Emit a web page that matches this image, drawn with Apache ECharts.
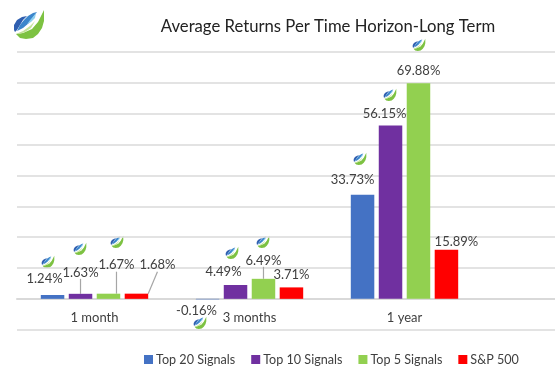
<!DOCTYPE html>
<html><head><meta charset="utf-8">
<style>html,body{margin:0;padding:0;background:#fff}#c{width:555px;height:383px}</style>
<script src="https://cdn.jsdelivr.net/npm/echarts@6/dist/echarts.min.js"></script>
</head><body><div id="c"></div>
<script>
const categories = ['1 month', '3 months', '1 year', ''];
const top20 = [1.24, -0.16, 33.73, null];
const top10 = [1.63, 4.49, 56.15, null];
const top5 = [1.67, 6.49, 69.88, null];
const sp500 = [1.68, 3.71, 15.89, null];
const seriesNames = ['Top 20 Signals', 'Top 10 Signals', 'Top 5 Signals', 'S&P 500'];
const seriesColors = ['#4472C4', '#7030A0', '#92D050', '#FF0000'];
const labelShift = [
  [[-8, -5], [-11, 23], [-10, -3]],
  [[0, -10], [-12, -2], [-6, 0]],
  [[8, -17], [0, -7], [0, -1]],
  [[21, -17], [0, -1], [10, 3]]
];
const leaderLines = [
  [false, false, false],
  [true, false, false],
  [true, true, false],
  [true, false, false]
];
const logoSpots = [[29, 25, 1], [48, 262, .42], [80, 249, .42], [117, 242, .42], [232, 253, .42], [263, 242, .42],
  [200, 323, .42], [360, 159, .42], [390, 95, .42], [419, 45, .42]];

function logo(cx, cy, s) {
  const p = (points, fill) => ({ type: 'polygon', shape: { points }, style: { fill } });
  return {
    type: 'group', x: cx, y: cy, scaleX: s, scaleY: s, silent: true,
    children: [
      p([[-3,14],[-9,13],[-13,9],[-6,8],[3,4],[9,-3],[15,-15],[15,-4],[13,3],[9,9],[4,13]], '#7DC242'),
      p([[-13,9],[-6,6],[1,1],[6,-4],[2,3],[-4,7],[-10,9]], '#C4E39A'),
      p([[-15,5],[-15,0],[-12,-5],[-7,-8],[-2,-9],[-6,-5],[-9,0],[-12,5],[-14,7]], '#2F5FB0'),
      p([[-12,6],[-9,0],[-5,-5],[-1,-9],[4,-12],[8,-13],[5,-9],[0,-2],[-6,3]], '#3C86CC'),
      p([[-2,-1],[2,-6],[7,-12],[6,-7],[2,-3]], '#8FD0EE')
    ]
  };
}

const values = [top20, top10, top5, sp500];
const chart = echarts.init(document.getElementById('c'), null, { renderer: 'canvas' });
chart.setOption({
  animation: false,
  textStyle: { fontFamily: 'Lato' },
  title: { text: 'Average Returns Per Time Horizon-Long Term', left: 323, top: 13, textAlign: 'center',
    textStyle: { fontFamily: 'Lato', fontWeight: 'normal', fontSize: 16.7, color: '#222' } },
  legend: { data: seriesNames, left: 139, top: 348, itemWidth: 9, itemHeight: 9, itemGap: 16, icon: 'rect',
    textStyle: { fontFamily: 'Lato', fontSize: 12.6, color: '#404040', padding: [0, 0, 0, -2] } },
  grid: { left: 17, top: 52, width: 620, height: 277.7, outerBoundsMode: 'none' },
  xAxis: { type: 'category', data: categories, axisTick: { show: false },
    axisLine: { lineStyle: { color: '#D9D9D9', width: 2 } },
    axisLabel: { fontFamily: 'Lato', fontSize: 13, color: '#404040', margin: -18 } },
  yAxis: { type: 'value', min: -10, max: 80, interval: 10, axisLabel: { show: false },
    axisLine: { show: false }, axisTick: { show: false },
    splitLine: { lineStyle: { color: '#DADADA', width: 1.5 } } },
  graphic: logoSpots.map(s => logo(s[0], s[1], s[2])),
  series: seriesNames.map((name, i) => ({
    name, type: 'bar', barWidth: 23.5, barGap: '19%',
    data: values[i].map((value, j) => ({ value, labelLine: { show: !!(leaderLines[i][j]) } })),
    itemStyle: { color: seriesColors[i] },
    label: { show: true, position: 'top', distance: 5, fontFamily: 'Lato', fontSize: 13, color: '#404040',
      formatter: p => p.value.toFixed(2) + '%' },
    labelLine: { lineStyle: { color: '#A6A6A6', width: 1.2 } },
    labelLayout: p => {
      const sh = labelShift[i][p.dataIndex];
      return sh ? { dx: sh[0], dy: sh[1] } : {};
    }
  }))
});
</script></body></html>
